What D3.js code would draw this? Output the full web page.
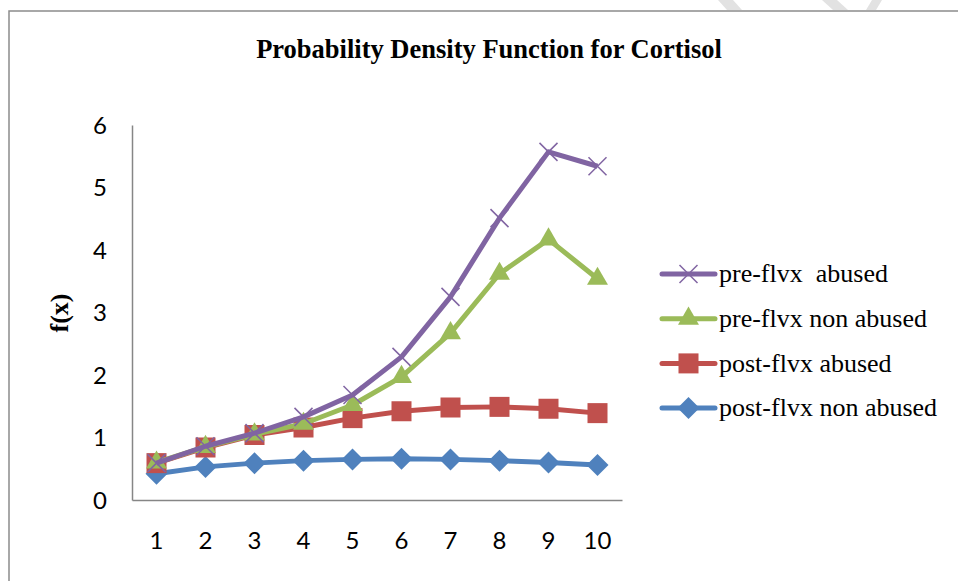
<!DOCTYPE html>
<html>
<head>
<meta charset="utf-8">
<script src="https://cdn.jsdelivr.net/npm/d3@7"></script>
<style>
  body { margin: 0; background: #fff; }
</style>
</head>
<body>
<div id="chart"></div>
<script>
// data
var xLabels = [1, 2, 3, 4, 5, 6, 7, 8, 9, 10];
var yTicks = [0, 1, 2, 3, 4, 5, 6];
var preAbused = [0.59, 0.86, 1.07, 1.33, 1.68, 2.29, 3.25, 4.51, 5.57, 5.34];
var preNonAbused = [0.6, 0.85, 1.05, 1.22, 1.52, 1.97, 2.67, 3.62, 4.17, 3.54];
var postAbused = [0.59, 0.84, 1.04, 1.16, 1.31, 1.42, 1.48, 1.49, 1.46, 1.39];
var postNonAbused = [0.42, 0.53, 0.59, 0.63, 0.65, 0.66, 0.65, 0.63, 0.6, 0.56];
var seriesNames = ["pre-flvx  abused", "pre-flvx non abused", "post-flvx abused", "post-flvx non abused"];

var series = [
  { name: seriesNames[0], values: preAbused, color: "#8064a2", marker: "x" },
  { name: seriesNames[1], values: preNonAbused, color: "#9bbb59", marker: "triangle" },
  { name: seriesNames[2], values: postAbused, color: "#c0504d", marker: "square" },
  { name: seriesNames[3], values: postNonAbused, color: "#4f81bd", marker: "diamond" }
];

var svgWidth = 958, svgHeight = 581;
var margin = { top: 125, left: 132 };
var width = 490, height = 375;

var svg = d3.select("#chart").append("svg")
  .attr("width", svgWidth)
  .attr("height", svgHeight);

// faint watermark strokes at the top of the page
svg.append("g").attr("fill", "#e2e2e2")
  .selectAll("path")
  .data(["M718,0 L733,0 L742,10 L727,10 Z", "M822,0 L837,0 L848,10 L833,10 Z", "M872,0 L882,0 L876,10 L866,10 Z"])
  .enter().append("path")
  .attr("d", d => d);

// outer frame (left and top)
svg.append("path")
  .attr("d", "M9," + svgHeight + " L9,11 L" + svgWidth + ",11")
  .attr("fill", "none")
  .attr("stroke", "#8c8c8c")
  .attr("stroke-width", 1.5);

var chartGroup = svg.append("g")
  .attr("transform", `translate(${margin.left}, ${margin.top})`);

var xScale = d3.scaleBand()
  .domain(xLabels)
  .range([0, width]);

var yScale = d3.scaleLinear()
  .domain([0, 6])
  .range([height, 0]);

var xAxis = d3.axisBottom(xScale).tickSize(0).tickPadding(32);
var yAxis = d3.axisLeft(yScale).tickValues(yTicks).tickFormat(d3.format("d")).tickSize(0).tickPadding(25);

var gx = chartGroup.append("g")
  .attr("transform", `translate(0, ${height})`)
  .call(xAxis);

var gy = chartGroup.append("g")
  .call(yAxis);

[gx, gy].forEach(function(g) {
  g.attr("font-family", "Lato, 'Open Sans', sans-serif").attr("font-size", 24);
  g.select(".domain").attr("stroke", "#868686").attr("stroke-width", 1.5);
  g.selectAll("text").attr("fill", "#000");
});
gy.selectAll("text").attr("dy", "0.35em");

var cx = d => xScale(d) + xScale.bandwidth() / 2;

function drawMarker(g, type, color) {
  if (type === "x") {
    g.append("path").attr("d", "M-9,-9 L9,9 M-9,9 L9,-9")
      .attr("stroke", color).attr("stroke-width", 1.5).attr("fill", "none");
  } else if (type === "triangle") {
    g.append("path").attr("d", d3.symbol(d3.symbolTriangle, 190)())
      .attr("fill", color);
  } else if (type === "square") {
    g.append("rect").attr("x", -10).attr("y", -10).attr("width", 20).attr("height", 20)
      .attr("fill", color);
  } else {
    g.append("path").attr("d", "M0,-11 L11,0 L0,11 L-11,0 Z")
      .attr("fill", color);
  }
}

var line = d3.line()
  .x((d, i) => cx(xLabels[i]))
  .y(d => yScale(d));

// draw bottom series first so the purple line sits on top
series.slice().reverse().forEach(function(s) {
  var g = chartGroup.append("g");
  g.append("path")
    .datum(s.values)
    .attr("d", line)
    .attr("fill", "none")
    .attr("stroke", s.color)
    .attr("stroke-width", 5)
    .attr("stroke-linejoin", "round");
  s.values.forEach(function(v, i) {
    var m = g.append("g")
      .attr("transform", `translate(${cx(xLabels[i])}, ${yScale(v)})`);
    drawMarker(m, s.marker, s.color);
  });
});

// title
svg.append("text")
  .attr("x", 489)
  .attr("y", 58)
  .attr("text-anchor", "middle")
  .attr("font-family", "'Liberation Serif', 'Times New Roman', serif")
  .attr("font-weight", "bold")
  .attr("font-size", "26.5px")
  .text("Probability Density Function for Cortisol");

// y label
svg.append("text")
  .attr("transform", "translate(68, 313) rotate(-90)")
  .attr("text-anchor", "middle")
  .attr("font-family", "'Liberation Serif', 'Times New Roman', serif")
  .attr("font-weight", "bold")
  .attr("font-size", "26px")
  .text("f(x)");

// legend
var legend = svg.append("g").attr("transform", "translate(662, 274)");
series.forEach(function(s, i) {
  var item = legend.append("g").attr("transform", `translate(0, ${i * 44.7})`);
  item.append("line")
    .attr("x1", 0).attr("x2", 53)
    .attr("stroke", s.color)
    .attr("stroke-width", 5)
    .attr("stroke-linecap", "round");
  var m = item.append("g").attr("transform", "translate(26.5, 0)");
  drawMarker(m, s.marker, s.color);
  item.append("text")
    .attr("x", 57)
    .attr("dy", "0.32em")
    .attr("font-family", "'Liberation Serif', 'Times New Roman', serif")
    .attr("font-size", "26px")
    .style("white-space", "pre")
    .text(s.name);
});
</script>
</body>
</html>
